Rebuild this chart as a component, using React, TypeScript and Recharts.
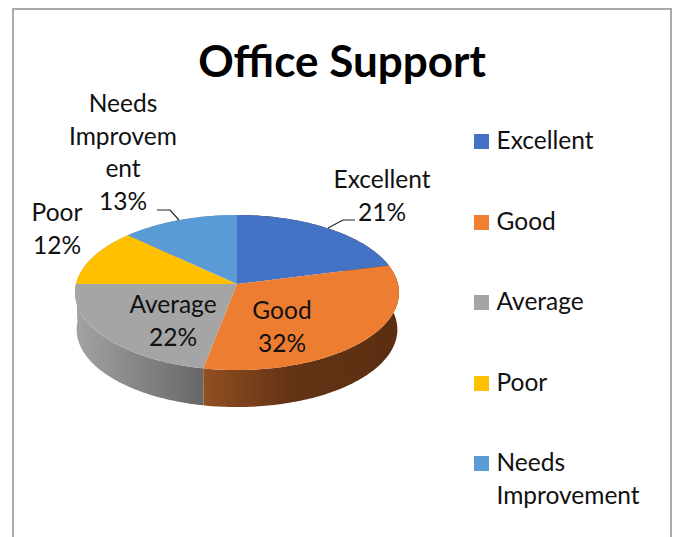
import { Legend, Pie, PieChart } from 'recharts';

const categories = ['Excellent', 'Good', 'Average', 'Poor', 'Needs Improvement'];
const shares = [21, 32, 22, 12, 13];
const topColors = ['#4472c4', '#ed7d31', '#a5a5a5', '#ffc000', '#5b9bd5'];
const sideColors = ['#5c2e11', 'url(#goodSide)', 'url(#averageSide)', '#a3a3a3', '#a3a3a3'];
const legendColors = ['#4472c4', '#f07f32', '#a5a5a5', '#ffc000', '#5b9bd5'];

const chartData = categories.map((name, i) => ({ name, value: shares[i] }));
const sideData = chartData.map((d, i) => ({ ...d, fill: sideColors[i] }));
const topData = chartData.map((d, i) => ({ ...d, fill: topColors[i] }));

const FONT = 'Lato, Carlito, sans-serif';
const LABEL_SIZE = 24.5;
const LINE_HEIGHT = 32.5;

// Excel's tilted pie: project the unit circle so the apex sits above the ellipse centre
const TILT = -0.11;
const SQUASH = 76.6 / 161;
const DEPTH = 37;

function project(cx: number, cy: number, r: number, deg: number, shrink = 1) {
    const u = Math.cos((deg * Math.PI) / 180);
    const v = -Math.sin((deg * Math.PI) / 180);
    const w = 1 + TILT * v;
    return { x: cx + (r * shrink * u) / w, y: cy + (r * SQUASH * v) / w };
}

function arcPoints(props: any, shrink = 1, dy = 0) {
    const { cx, cy, outerRadius, startAngle, endAngle } = props;
    const steps = Math.max(2, Math.ceil(Math.abs(endAngle - startAngle)));
    const points = [];
    for (let i = 0; i <= steps; i++) {
        const deg = startAngle + ((endAngle - startAngle) * i) / steps;
        const p = project(cx, cy, outerRadius, deg, shrink);
        points.push(`${p.x.toFixed(2)} ${(p.y + dy).toFixed(2)}`);
    }
    return points;
}

function TopSector(props: any) {
    const path = `M${props.cx} ${props.cy}L${arcPoints(props).join('L')}Z`;
    return <path d={path} fill={props.fill} />;
}

function SideSector(props: any) {
    const upper = arcPoints(props);
    const lower = arcPoints(props, 0.99, DEPTH).reverse();
    return <path d={`M${upper.join('L')}L${lower.join('L')}Z`} fill={props.fill} />;
}

const labelLayout: Record<string, { x: number; y: number; lines: string[]; leader?: string }> = {
    Excellent: { x: 382, y: 188, lines: ['Excellent'], leader: '328,228 343,220 355,220' },
    Good: { x: 282, y: 319, lines: ['Good'] },
    Average: { x: 173, y: 313, lines: ['Average'] },
    Poor: { x: 57, y: 221, lines: ['Poor'] },
    'Needs Improvement': {
        x: 123,
        y: 112,
        lines: ['Needs', 'Improvem', 'ent'],
        leader: '157,210 170,210 179,220',
    },
};

function SliceLabel(props: any) {
    const layout = labelLayout[props.name];
    const lines = [...layout.lines, `${Math.round(props.percent * 100)}%`];
    return (
        <g>
            {layout.leader && <polyline points={layout.leader} fill="none" stroke="#262626" strokeWidth={1.2} />}
            <text x={layout.x} y={layout.y} textAnchor="middle" fontFamily={FONT} fontSize={LABEL_SIZE} fill="#111">
                {lines.map((line, i) => (
                    <tspan key={line} x={layout.x} dy={i === 0 ? 0 : LINE_HEIGHT}>
                        {line}
                    </tspan>
                ))}
            </text>
        </g>
    );
}

function LegendList() {
    return (
        <div style={{ fontFamily: FONT, fontSize: LABEL_SIZE, color: '#111', lineHeight: '33px' }}>
            {categories.map((name, i) => (
                <div key={name} style={{ position: 'absolute', left: 0, top: i * 80.5, width: 180 }}>
                    <span
                        style={{
                            position: 'absolute',
                            left: 0,
                            top: 9,
                            width: 15,
                            height: 15,
                            background: legendColors[i],
                        }}
                    />
                    <div style={{ marginLeft: 22.5, marginTop: -2 }}>{name}</div>
                </div>
            ))}
        </div>
    );
}

export default function App() {
    return (
        <div style={{ position: 'absolute', left: 0, top: 0, width: 673, height: 537, background: '#fff', overflow: 'hidden' }}>
            <div
                style={{
                    position: 'absolute',
                    left: 12,
                    top: 8,
                    width: 656,
                    height: 540,
                    border: '2px solid #a9a9a9',
                }}
            />
            <div
                style={{
                    position: 'absolute',
                    left: 12,
                    width: 660,
                    top: 32,
                    textAlign: 'center',
                    fontFamily: FONT,
                    fontWeight: 700,
                    fontSize: 44,
                    lineHeight: '56px',
                    color: '#000',
                }}
            >
                Office Support
            </div>
            <PieChart width={673} height={537} margin={{ top: 0, right: 0, bottom: 0, left: 0 }} style={{ position: 'absolute', left: 0, top: 0 }}>
                <defs>
                    <linearGradient id="goodSide" x1="0" y1="0" x2="1" y2="0">
                        <stop offset="0" stopColor="#924f22" />
                        <stop offset="0.45" stopColor="#633314" />
                        <stop offset="1" stopColor="#5c2e11" />
                    </linearGradient>
                    <linearGradient id="averageSide" x1="0" y1="0" x2="1" y2="0">
                        <stop offset="0" stopColor="#a3a3a3" />
                        <stop offset="1" stopColor="#676767" />
                    </linearGradient>
                </defs>
                <Pie
                    data={sideData}
                    dataKey="value"
                    nameKey="name"
                    cx={237}
                    cy={284}
                    outerRadius={161}
                    startAngle={90}
                    endAngle={-270}
                    stroke="none"
                    legendType="none"
                    shape={SideSector}
                    inactiveShape={SideSector}
                    activeShape={SideSector}
                    isAnimationActive={false}
                />
                <Pie
                    data={topData}
                    dataKey="value"
                    nameKey="name"
                    cx={237}
                    cy={284}
                    outerRadius={161}
                    startAngle={90}
                    endAngle={-270}
                    stroke="none"
                    shape={TopSector}
                    inactiveShape={TopSector}
                    activeShape={TopSector}
                    label={SliceLabel}
                    labelLine={false}
                    isAnimationActive={false}
                />
                <Legend
                    content={<LegendList />}
                    wrapperStyle={{ position: 'absolute', left: 474, top: 125, width: 180, height: 380 }}
                />
            </PieChart>
        </div>
    );
}
